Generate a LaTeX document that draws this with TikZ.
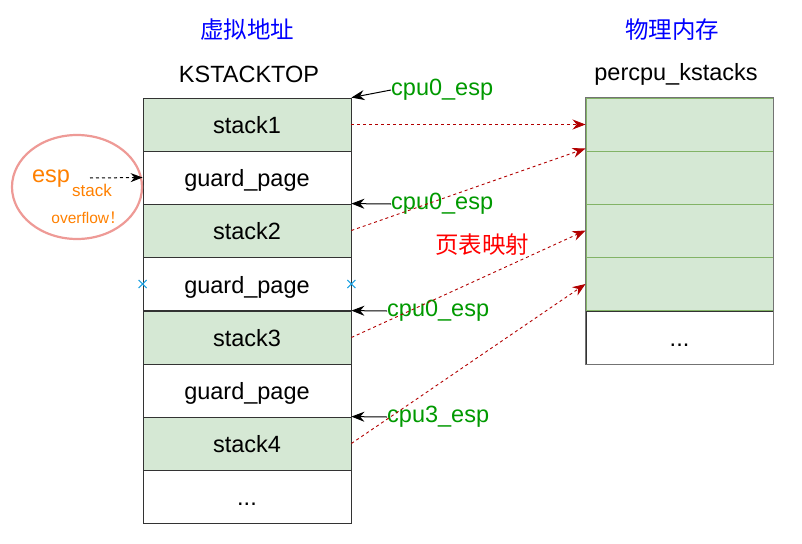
\documentclass[tikz,border=0pt]{standalone}
\usepackage{fontspec}
\setmainfont{Liberation Sans}
\newfontfamily\cjk{Noto Sans CJK SC}
\usetikzlibrary{arrows.meta,shapes.geometric,shapes.misc}
\definecolor{cellgreen}{HTML}{D5E8D4}
\definecolor{cellline}{HTML}{82B366}
\definecolor{mapred}{HTML}{B20000}
\definecolor{espgreen}{HTML}{009900}
\definecolor{ovorange}{HTML}{FF8000}
\definecolor{ringred}{HTML}{EE9A96}
\definecolor{markblue}{HTML}{1BA1E2}
\tikzset{
  txt/.style={font=\fontsize{23.5}{28}\selectfont, inner sep=0pt},
  vcell/.style={draw=black!80, line width=0.8pt, minimum width=208pt, minimum height=53pt, inner sep=0pt, text height=18pt, text depth=0pt, font=\fontsize{23.5}{28}\selectfont},
  vstack/.style={vcell, fill=cellgreen},
  pcell/.style={draw=cellline, line width=1pt, fill=cellgreen, minimum width=187pt, minimum height=53pt, inner sep=0pt},
  maparrow/.style={draw=mapred, dashed, line width=0.9pt, -{Stealth[length=13pt,width=10pt]}},
  esparrow/.style={draw=black, line width=1pt, -{Stealth[length=13pt,width=10pt]}},
  xmark/.style={draw=markblue, cross out, line width=1pt, minimum size=7pt, inner sep=0pt},
}
\begin{document}
\begin{tikzpicture}[x=1pt,y=-1pt]
\useasboundingbox (0,0) rectangle (802,543);
% titles
\node[txt, text=blue] (tv) at (247,30) {\cjk 虚拟地址};
\node[txt, text=blue] (tp) at (672,30) {\cjk 物理内存};
\node[txt] (ktop) at (249,74) {KSTACKTOP};
\node[txt] (pks) at (676,74) {percpu\_kstacks};
% virtual column
\node[vstack] (s1) at (247,124.5) {stack1};
\node[vcell]  (g1) at (247,177.5) {guard\_page};
\node[vstack] (s2) at (247,230.5) {stack2};
\node[vcell]  (g2) at (247,284) {guard\_page};
\node[vstack] (s3) at (247,337.5) {stack3};
\node[vcell]  (g3) at (247,390.5) {guard\_page};
\node[vstack] (s4) at (247,443.5) {stack4};
\node[vcell]  (vd) at (247,496.5) {...};
% physical column
\node[pcell] (r1) at (679.5,124.5) {};
\node[pcell] (r2) at (679.5,177.5) {};
\node[pcell] (r3) at (679.5,230.5) {};
\node[pcell] (r4) at (679.5,284) {};
\node[draw=black!80, line width=0.8pt, minimum width=187pt, minimum height=53pt, inner sep=0pt, text height=18pt, text depth=0pt, font=\fontsize{23.5}{28}\selectfont] (rd) at (679.5,337.5) {...};
\draw[black!55, line width=1pt] (r1.north west) rectangle (rd.south east);
% blue marks
\node[xmark] (m1) at (g2.west) {};
\node[xmark] (m2) at (g2.east) {};
% esp labels
\node[txt, text=espgreen, anchor=west] (e1) at (391,90) {cpu0\_esp};
\node[txt, text=espgreen, anchor=west] (e2) at (391,204) {cpu0\_esp};
\node[txt, text=espgreen, anchor=west] (e3) at (387,311) {cpu0\_esp};
\node[txt, text=espgreen, anchor=west] (e4) at (387,417) {cpu3\_esp};
\draw[esparrow] (e1.west) -- (s1.north east);
\draw[esparrow] (e2.west) -- (s2.north east);
\draw[esparrow] (e3.west) -- (s3.north east);
\draw[esparrow] (e4.west) -- (s4.north east);
% mapping
\node[txt, text=red] (map) at (482,245) {\cjk 页表映射};
\coordinate (r1t) at ([yshift=3pt]r1.south west);
\draw[maparrow] (s1.east) -- (r1.west);
\draw[maparrow] (s2.east) -- (r1t);
\draw[maparrow] (s3.east) -- (r3.west);
\draw[maparrow] (s4.east) -- (r4.west);
% overflow ring
\node[ellipse, draw=ringred, line width=2.2pt, minimum width=130pt, minimum height=104pt] (ring) at (77,187) {};
\node[txt, text=ovorange] (esp) at (51,179) {esp};
\node[font=\fontsize{17}{20}\selectfont, inner sep=0pt, text=ovorange] (stk) at (92,190) {stack};
\node[font=\fontsize{15.5}{18}\selectfont, inner sep=0pt, text=ovorange] (ovf) at (88,218) {overflow{\cjk ！}};
\coordinate (espt) at (90,178);
\draw[black, dashed, line width=1pt, -{Stealth[length=12pt,width=9pt]}] (espt) -- (g1.west);
\end{tikzpicture}
\end{document}
